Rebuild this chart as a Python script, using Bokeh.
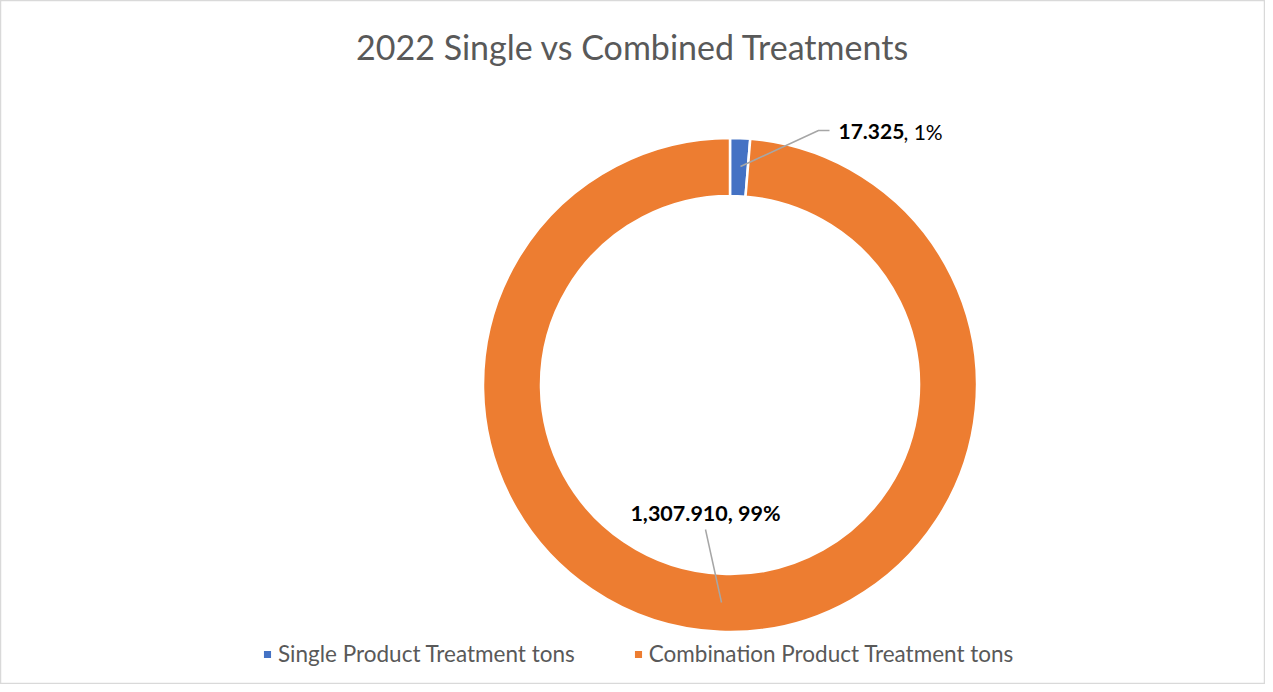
import math
from bokeh.plotting import figure
from bokeh.models import Range1d, Legend, LegendItem, ColumnDataSource
from bokeh.core.properties import value
from bokeh.embed import file_html
from bokeh.resources import INLINE

# ---- data ----
categories = ["Single Product Treatment tons", "Combination Product Treatment tons"]
tons = [17.325, 1307.910]
colors = ["#4472C4", "#ED7D31"]
title_text = "2022 Single vs Combined Treatments"

W, H = 1265, 684
total = sum(tons)
starts, ends, pcts = [], [], []
cum = 0.0
for v in tons:
    starts.append(math.pi / 2 - 2 * math.pi * cum / total)
    cum += v
    ends.append(math.pi / 2 - 2 * math.pi * cum / total)
    pcts.append(round(100 * v / total))

src = ColumnDataSource(dict(cat=categories, v=tons, start=starts, end=ends, color=colors))

p = figure(width=W, height=H, output_backend="svg", toolbar_location=None,
           x_range=Range1d(0, W), y_range=Range1d(0, H), min_border=0)
p.axis.visible = False
p.grid.visible = False
p.outline_line_color = "#d9d9d9"
p.outline_line_width = 1.5
p.background_fill_color = "white"

def sx(x):
    return x - 8

def sy(y):
    return 692 - y

cx, cy = sx(737.5), sy(392.5)
r = p.annular_wedge(x=cx, y=cy, inner_radius=189, outer_radius=247,
                    inner_radius_units="screen", outer_radius_units="screen",
                    start_angle="start", end_angle="end", direction="clock",
                    fill_color="color", line_color="white", line_width=2.5, source=src)

# title
p.text(x=[sx(640.5)], y=[sy(54)], text=[title_text], text_font=value("Lato"),
       text_font_size="34px", text_color="#595959", text_align="center",
       text_baseline="middle")

# data labels
lbl1_val = f"{tons[0]:,.3f}"
lbl1_rest = f", {pcts[0]}%"
lbl2 = f"{tons[1]:,.3f}, {pcts[1]}%"

p.line(x=[sx(748), sx(826), sx(837)], y=[sy(174), sy(138), sy(138)],
       line_color="#a6a6a6", line_width=1.5)
p.line(x=[sx(713), sx(729)], y=[sy(537), sy(610)], line_color="#a6a6a6", line_width=1.5)

p.text(x=[sx(846)], y=[sy(139)], text=[lbl1_val], text_font=value("Lato"),
       text_font_size="21px", text_font_style="bold", text_color="black",
       text_align="left", text_baseline="middle")
p.text(x=[sx(911)], y=[sy(139)], text=[lbl1_rest], text_font=value("Lato"),
       text_font_size="21px", text_color="black",
       text_align="left", text_baseline="middle")
p.text(x=[sx(713)], y=[sy(520)], text=[lbl2], text_font=value("Lato"),
       text_font_size="21.5px", text_font_style="bold", text_color="black",
       text_align="center", text_baseline="middle")

legend = Legend(items=[LegendItem(label=categories[i], renderers=[r], index=i) for i in range(2)],
                orientation="horizontal", location=(sx(269), sy(675)),
                label_text_font="Lato", label_text_font_size="22.5px",
                label_text_color="#595959", glyph_width=12, glyph_height=12,
                label_standoff=5, spacing=57, padding=0, margin=0,
                border_line_color=None, background_fill_alpha=0)
p.add_layout(legend)

open("out.html", "w").write(file_html(p, INLINE))
